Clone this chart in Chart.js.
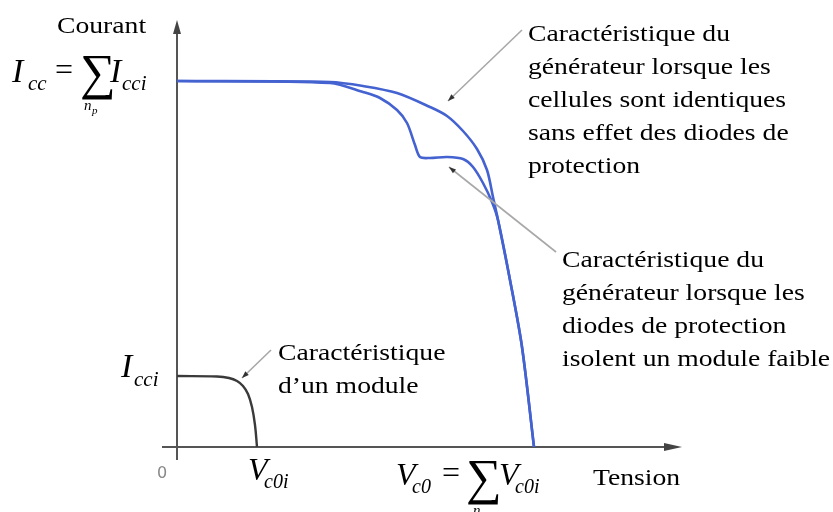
<!DOCTYPE html>
<html>
<head>
<meta charset="utf-8">
<script src="https://cdn.jsdelivr.net/npm/chart.js@4/dist/chart.umd.min.js"></script>
<style>
  html, body { margin: 0; padding: 0; background: #fff; }
  #wrap { width: 833px; height: 512px; }
</style>
</head>
<body>
<div id="wrap"><canvas id="ivChart"></canvas></div>
<script>
// I-V curves (tension on x, courant on y, arbitrary units)
const outerV = [0, 153, 186, 220, 253, 270, 286, 300, 310, 316, 321, 333, 345, 357];
const outerI = [366, 365, 361, 354, 340, 331, 316, 298, 277, 250, 227, 167, 100, 0];

const innerV = [0, 153, 186, 203, 220, 230, 238, 243, 253, 270, 286, 296, 306, 315, 321, 333, 345, 357];
const innerI = [366, 364, 355, 349, 337, 324, 302, 290, 289, 290, 288, 280, 264, 245, 227, 167, 100, 0];

const moduleV = [0, 40, 52, 60, 66, 71, 75, 78, 80];
const moduleI = [71, 70.5, 69, 66, 61, 53, 40, 22, 0];

const xMax = 505;
const yMax = 427;

const blueLine = 'rgb(68, 98, 208)';
const darkLine = '#3a3a3a';

function toPoints(xs, ys) {
  return xs.map((x, i) => ({x: x, y: ys[i]}));
}

const serif = '"Liberation Serif", "DejaVu Serif", serif';
const mathFont = '"Liberation Serif", "Times New Roman", serif';

function arrowHead(ctx, x1, y1, x2, y2, len, half, color) {
  const a = Math.atan2(y2 - y1, x2 - x1);
  ctx.save();
  ctx.fillStyle = color;
  ctx.beginPath();
  ctx.moveTo(x2, y2);
  ctx.lineTo(x2 - len * Math.cos(a) + half * Math.sin(a), y2 - len * Math.sin(a) - half * Math.cos(a));
  ctx.lineTo(x2 - len * Math.cos(a) - half * Math.sin(a), y2 - len * Math.sin(a) + half * Math.cos(a));
  ctx.closePath();
  ctx.fill();
  ctx.restore();
}

function pointer(ctx, x1, y1, x2, y2) {
  ctx.save();
  ctx.strokeStyle = '#a8a8a8';
  ctx.lineWidth = 1.6;
  ctx.beginPath();
  ctx.moveTo(x1, y1);
  ctx.lineTo(x2, y2);
  ctx.stroke();
  ctx.restore();
  arrowHead(ctx, x1, y1, x2, y2, 7, 2.5, '#333');
}

// text stretched horizontally to match the figure's wider typeface
let stretch = 1;
function txt(ctx, s, x, y, font) {
  ctx.save();
  ctx.font = font;
  ctx.fillStyle = '#000';
  ctx.translate(x, y);
  ctx.scale(stretch, 1);
  ctx.fillText(s, 0, 0);
  ctx.restore();
}

function mtxt(ctx, s, x, y, size, italic) {
  ctx.save();
  ctx.font = (italic ? 'italic ' : '') + size + 'px ' + mathFont;
  ctx.fillStyle = '#000';
  ctx.fillText(s, x, y);
  ctx.restore();
}

const diagram = {
  id: 'diagram',
  beforeDatasetsDraw(chart) {
    const ctx = chart.ctx;
    const xs = chart.scales.x, ys = chart.scales.y;
    const x0 = xs.getPixelForValue(0), y0 = ys.getPixelForValue(0);
    ctx.save();
    ctx.strokeStyle = '#555';
    ctx.lineWidth = 2;
    ctx.beginPath();
    ctx.moveTo(xs.getPixelForValue(-15), y0);
    ctx.lineTo(xs.getPixelForValue(xMax) - 6, y0);
    ctx.moveTo(x0, ys.getPixelForValue(-13));
    ctx.lineTo(x0, ys.getPixelForValue(yMax) + 6);
    ctx.stroke();
    ctx.restore();
    arrowHead(ctx, x0, y0, xs.getPixelForValue(xMax), y0, 18, 4, '#444');
    arrowHead(ctx, x0, y0, x0, ys.getPixelForValue(yMax), 14, 4, '#444');
  },
  afterDraw(chart) {
    const ctx = chart.ctx;
    pointer(ctx, 522, 30, 448, 101);
    pointer(ctx, 556, 252, 449, 167);
    pointer(ctx, 271, 350, 242, 378);

    const f = '24px ' + serif;
    ctx.font = f;
    stretch = 202 / ctx.measureText('Caractéristique du').width;

    txt(ctx, 'Courant', 57, 33, f);
    txt(ctx, 'Caractéristique du', 528, 41, f);
    txt(ctx, 'générateur lorsque les', 528, 74, f);
    txt(ctx, 'cellules sont identiques', 528, 107, f);
    txt(ctx, 'sans effet des diodes de', 528, 140, f);
    txt(ctx, 'protection', 528, 173, f);

    txt(ctx, 'Caractéristique du', 562, 267, f);
    txt(ctx, 'générateur lorsque les', 562, 300, f);
    txt(ctx, 'diodes de protection', 562, 333, f);
    txt(ctx, 'isolent un module faible', 562, 366, f);

    txt(ctx, 'Caractéristique', 278, 360, f);
    txt(ctx, 'd’un module', 278, 393, f);

    txt(ctx, 'Tension', 593, 485, f);

    // I_cc = sum over n_p of I_cci
    mtxt(ctx, 'I', 12, 82, 34, true);
    mtxt(ctx, 'cc', 28, 90, 21, true);
    mtxt(ctx, '=', 55, 80, 32, false);
    mtxt(ctx, '∑', 80, 89, 50, false);
    mtxt(ctx, 'I', 110, 82, 34, true);
    mtxt(ctx, 'cci', 122, 90, 21, true);
    mtxt(ctx, 'n', 84, 110, 15, true);
    mtxt(ctx, 'p', 92, 114, 11, true);

    // I_cci
    mtxt(ctx, 'I', 121, 377, 34, true);
    mtxt(ctx, 'cci', 134, 386, 21, true);

    // origin
    ctx.save();
    ctx.font = '16px "DejaVu Sans", sans-serif';
    ctx.fillStyle = '#888';
    ctx.fillText('0', 157, 478);
    ctx.restore();

    // V_c0i
    mtxt(ctx, 'V', 248, 480, 32, true);
    mtxt(ctx, 'c0i', 264, 488, 20, true);

    // V_c0 = sum over n_s of V_c0i
    mtxt(ctx, 'V', 396, 485, 32, true);
    mtxt(ctx, 'c0', 412, 493, 20, true);
    mtxt(ctx, '=', 442, 483, 32, false);
    mtxt(ctx, '∑', 466, 494, 50, false);
    mtxt(ctx, 'V', 499, 485, 32, true);
    mtxt(ctx, 'c0i', 515, 493, 20, true);
    mtxt(ctx, 'n', 473, 515, 15, true);
    mtxt(ctx, 's', 481, 518, 11, true);
  }
};

new Chart(document.getElementById('ivChart'), {
  type: 'scatter',
  data: {
    datasets: [
      {
        label: 'inner',
        data: toPoints(innerV, innerI),
        showLine: true,
        borderColor: blueLine,
        borderWidth: 2.6,
        pointRadius: 0,
        tension: 0.3
      },
      {
        label: 'outer',
        data: toPoints(outerV, outerI),
        showLine: true,
        borderColor: blueLine,
        borderWidth: 2.6,
        pointRadius: 0,
        tension: 0.3
      },
      {
        label: 'module',
        data: toPoints(moduleV, moduleI),
        showLine: true,
        borderColor: darkLine,
        borderWidth: 2.4,
        pointRadius: 0,
        tension: 0.4
      }
    ]
  },
  options: {
    responsive: true,
    maintainAspectRatio: false,
    animation: false,
    layout: { padding: { left: 177, right: 151, top: 20, bottom: 65 } },
    plugins: { legend: { display: false }, tooltip: { enabled: false } },
    scales: {
      x: { type: 'linear', min: 0, max: xMax, display: false },
      y: { type: 'linear', min: 0, max: yMax, display: false }
    }
  },
  plugins: [diagram]
});
</script>
</body>
</html>
